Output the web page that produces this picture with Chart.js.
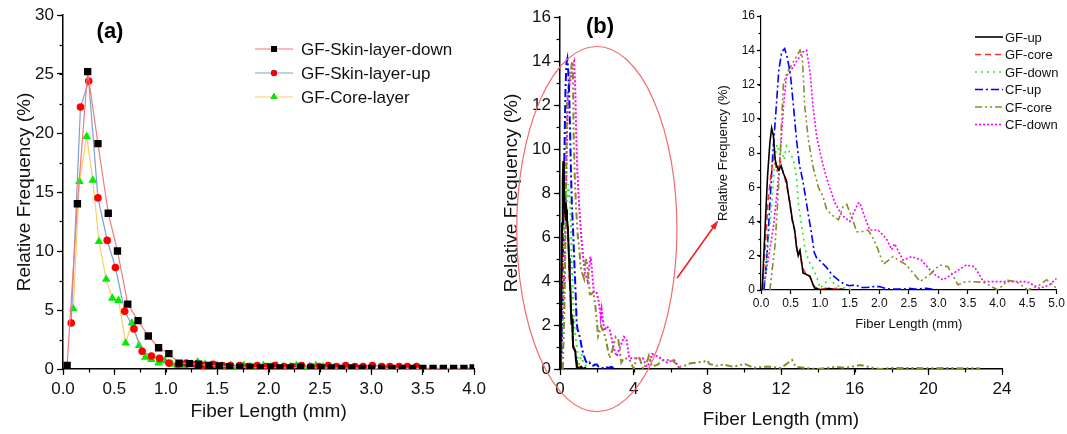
<!DOCTYPE html>
<html>
<head>
<meta charset="utf-8">
<script src="https://cdn.jsdelivr.net/npm/chart.js@4.4.0/dist/chart.umd.min.js"></script>
<style>
html, body { margin: 0; padding: 0; background: #fff; }
#wrap { position: relative; width: 1067px; height: 434px; overflow: hidden; }
canvas { position: absolute; top: 0; }
#cA { left: 0; }
#cB { left: 490px; }
#cI { left: 690px; }
</style>
</head>
<body>
<div id="wrap">
  <canvas id="cA" width="490" height="434"></canvas>
  <canvas id="cB" width="577" height="434"></canvas>
  <canvas id="cI" width="377" height="340"></canvas>
</div>
<script>
// ---------- panel (a) data ----------
var downX = [0.04, 0.14, 0.24, 0.34, 0.44, 0.53, 0.63, 0.73, 0.83, 0.93, 1.03, 1.13, 1.23, 1.32, 1.42, 1.52, 1.62, 1.72, 1.82, 1.92, 2.02,
             2.11, 2.21, 2.31, 2.41, 2.51, 2.61, 2.71, 2.81, 2.91, 3.00, 3.10, 3.20, 3.30, 3.40, 3.50, 3.60, 3.70, 3.80, 3.90, 3.99];
var downY = [0.3, 14.0, 25.2, 19.1, 13.2, 10.0, 5.5, 4.1, 2.8, 1.8, 1.3, 0.5, 0.45, 0.4, 0.3, 0.25, 0.2, 0.15, 0.15, 0.1, 0.15,
             0.1, 0.1, 0.15, 0.1, 0.1, 0.1, 0.05, 0.1, 0.05, 0.05, 0.05, 0.05, 0.05, 0.05, 0.05, 0.05, 0.05, 0.05, 0.05, 0.1];

var upX = [0.08, 0.17, 0.25, 0.34, 0.43, 0.51, 0.60, 0.69, 0.77, 0.86, 0.94, 1.03, 1.12, 1.20, 1.29, 1.37, 1.46, 1.55, 1.63, 1.72,
           1.80, 1.89, 1.98, 2.06, 2.15, 2.23, 2.32, 2.41, 2.49, 2.58, 2.66, 2.75, 2.84, 2.92, 3.01, 3.10, 3.18, 3.27, 3.35, 3.44];
var upY = [3.9, 22.2, 24.4, 14.5, 10.9, 8.6, 4.9, 3.4, 1.5, 1.1, 0.9, 0.5, 0.4, 0.5, 0.4, 0.3, 0.4, 0.3, 0.3, 0.3,
           0.2, 0.3, 0.2, 0.3, 0.2, 0.2, 0.3, 0.2, 0.2, 0.3, 0.2, 0.3, 0.2, 0.2, 0.3, 0.2, 0.2, 0.2, 0.2, 0.2];

var coreX = [0.10, 0.16, 0.23, 0.29, 0.35, 0.42, 0.48, 0.54, 0.61, 0.67, 0.74, 0.80, 0.86, 0.93, 0.99, 1.06, 1.12, 1.18, 1.25, 1.31,
             1.38, 1.44, 1.50, 1.57, 1.63, 1.70, 1.76, 1.82, 1.89, 1.95, 2.02, 2.08, 2.14, 2.21, 2.27, 2.34, 2.40, 2.46, 2.53, 2.59];
var coreY = [5.1, 15.9, 19.7, 16.0, 10.8, 7.6, 6.0, 5.8, 2.2, 3.9, 2.0, 1.0, 0.8, 0.5, 0.7, 0.4, 0.3, 0.3, 0.4, 0.6,
             0.4, 0.3, 0.3, 0.2, 0.3, 0.2, 0.3, 0.2, 0.2, 0.3, 0.2, 0.3, 0.2, 0.2, 0.3, 0.2, 0.2, 0.3, 0.2, 0.2];

var aLabels = ['GF-Skin-layer-down', 'GF-Skin-layer-up', 'GF-Core-layer'];

// ---------- panel (b) data ----------
var gfUpX = [0.02, 0.07, 0.11, 0.15, 0.18, 0.21, 0.24, 0.27, 0.30, 0.34, 0.38, 0.43, 0.46, 0.49, 0.53, 0.57, 0.60, 0.63, 0.66, 0.69,
             0.71, 0.77, 0.83, 0.87, 0.91, 0.97, 1.05, 1.15, 1.25, 1.35, 1.45];
var gfUpY = [0, 3.7, 6.6, 8.6, 9.45, 9.0, 7.6, 7.2, 7.0, 7.25, 6.8, 6.4, 5.65, 5.05, 4.1, 3.5, 2.5, 2.0, 2.3, 1.55,
             1.0, 0.9, 0.8, 0.4, 0.1, 0.05, 0, 0.1, 0, 0.05, 0];

var gfCoreX = [0.02, 0.07, 0.12, 0.17, 0.22, 0.27, 0.32, 0.37, 0.42, 0.47, 0.52, 0.57, 0.62, 0.65, 0.70, 0.75, 0.80, 0.85, 0.90, 0.95,
               1.00, 1.10, 1.20, 1.30, 1.40];
var gfCoreY = [0, 2.5, 5.2, 6.8, 7.8, 6.9, 7.6, 6.9, 6.3, 5.5, 4.2, 3.4, 2.1, 2.3, 1.3, 1.0, 0.9, 0.6, 0.2, 0.1,
               0.05, 0.1, 0.05, 0.1, 0];

var gfDownX = [0.02, 0.07, 0.12, 0.17, 0.21, 0.24, 0.27, 0.31, 0.35, 0.39, 0.43, 0.49, 0.55, 0.60, 0.63, 0.69, 0.74, 0.80, 0.88, 0.94,
               1.00, 1.08, 1.17, 1.25, 1.34, 1.44, 1.55];
var gfDownY = [0, 0.8, 2.7, 4.5, 6.4, 7.8, 8.5, 8.0, 8.1, 7.6, 8.4, 8.0, 7.6, 6.6, 5.1, 3.7, 2.5, 1.75, 1.25, 0.8,
               0.1, 0.4, 0.7, 0.3, 0.2, 0.1, 0];

var cfUpX = [0.05, 0.10, 0.15, 0.20, 0.25, 0.30, 0.35, 0.40, 0.45, 0.50, 0.55, 0.60, 0.65, 0.70, 0.75, 0.80, 0.85, 0.90, 0.95, 1.00,
             1.10, 1.20, 1.30, 1.40, 1.50, 1.60, 1.70, 1.80, 1.90, 2.00, 2.10, 2.20, 2.40, 2.50, 2.60, 2.80, 3.00];
var cfUpY = [0, 2, 5, 8, 10.3, 12.8, 13.9, 14.1, 13.5, 12.5, 10.7, 8.8, 7.3, 6.5, 5.5, 4.4, 3.4, 2.2, 1.8, 1.7,
             1.35, 0.9, 0.6, 0.35, 0.25, 0.3, 0.15, 0.15, 0.2, 0.2, 0.1, 0.05, 0.05, 0.1, 0.05, 0.1, 0];

var cfCoreX = [0.15, 0.24, 0.29, 0.32, 0.35, 0.38, 0.46, 0.56, 0.66, 0.70, 0.74, 0.80, 0.88, 0.97, 1.05, 1.11, 1.19, 1.31, 1.39, 1.45,
               1.53, 1.62, 1.70, 1.81, 1.90, 1.98, 2.07, 2.23, 2.46, 2.69, 2.85, 3.02, 3.16, 3.33, 3.47, 3.76, 4.01, 4.17, 4.32, 4.51,
               4.70, 4.83, 5.00, 5.30, 5.60, 6.07, 6.50, 6.90, 7.07, 7.40, 7.80, 8.00, 8.10, 8.50, 8.90, 9.40, 10.05, 10.50, 11.00, 11.40,
               12.00, 12.60, 12.80, 13.30, 13.90, 14.50, 15.00, 15.50, 16.30, 17.00, 17.40, 18.00, 19.00, 20.00, 21.00, 22.00, 22.80];
var cfCoreY = [0, 2.7, 5.6, 7.6, 10.0, 12.1, 12.8, 13.4, 14.0, 13.6, 10.7, 8.8, 7.2, 6.0, 5.45, 4.7, 4.4, 4.1, 4.9, 5.0,
               4.3, 3.4, 3.4, 3.5, 3.0, 2.35, 1.5, 1.95, 1.46, 0.5, 0.88, 1.46, 1.36, 0.3, 0.5, 0.45, 0, 0.56, 0.5, 0,
               0.26, 0.6, 0.1, 0.2, 0.4, 0.41, 0.1, 0.18, 0.26, 0.29, 0.33, 0.4, 0.23, 0.15, 0.2, 0.1, 0.23, 0.05, 0.1, 0.1,
               0.05, 0.41, 0.1, 0.05, 0, 0.05, 0.1, 0.05, 0.18, 0.05, 0, 0.05, 0.05, 0.03, 0.05, 0.03, 0.03];

var cfDownX = [0.04, 0.12, 0.21, 0.27, 0.32, 0.38, 0.43, 0.52, 0.60, 0.71, 0.77, 0.83, 0.88, 0.94, 1.04, 1.14, 1.25, 1.36, 1.50, 1.64,
               1.67, 1.76, 1.84, 1.98, 2.12, 2.21, 2.26, 2.40, 2.55, 2.71, 2.91, 3.08, 3.25, 3.47, 3.61, 3.76, 4.04, 4.32, 4.50, 4.71,
               4.88, 5.00, 5.34, 5.80, 6.20, 6.50];
var cfDownY = [0, 1.75, 3.7, 5.65, 7.6, 10.7, 12.5, 12.9, 13.35, 13.9, 14.0, 12.7, 10.7, 9.0, 7.4, 6.2, 5.1, 4.4, 4.0, 5.05,
               5.1, 4.2, 3.5, 3.5, 3.0, 2.35, 2.7, 1.75, 1.95, 1.75, 0.97, 0.58, 0.97, 1.46, 1.36, 0.49, 0.49, 0.49, 0.49, 0.1,
               0.3, 0.68, 0.56, 0.3, 0.4, 0];

var bLabels = ['GF-up', 'GF-core', 'GF-down', 'CF-up', 'CF-core', 'CF-down'];

Chart.defaults.font.family = '"Liberation Sans", Arial, sans-serif';
Chart.defaults.color = '#111';

function pts(xs, ys) {
    return xs.map(function (x, i) { return {x: x, y: ys[i]}; });
}

// short extra ticks between the labelled ones
var minorTicks = {
    id: 'minorTicks',
    afterDraw: function (chart, args, opts) {
        var ctx = chart.ctx;
        ctx.save();
        ctx.strokeStyle = '#000';
        ctx.lineWidth = 1.2;
        ['x', 'y'].forEach(function (k) {
            var step = opts[k];
            if (!step) return;
            var s = chart.scales[k];
            for (var v = s.min; v <= s.max + 1e-9; v += step) {
                var p = Math.round(s.getPixelForValue(v)) + 0.5;
                ctx.beginPath();
                if (k === 'x') { ctx.moveTo(p, s.top); ctx.lineTo(p, s.top + opts.len); }
                else { ctx.moveTo(s.right, p); ctx.lineTo(s.right - opts.len, p); }
                ctx.stroke();
            }
        });
        ctx.restore();
    }
};

// panel letter, (a) / (b)
var panelTag = {
    id: 'panelTag',
    afterDraw: function (chart, args, opts) {
        var ctx = chart.ctx;
        ctx.save();
        ctx.font = 'bold 22px "Liberation Sans", Arial, sans-serif';
        ctx.fillStyle = '#000';
        ctx.textAlign = 'center';
        ctx.textBaseline = 'middle';
        ctx.fillText(opts.text, opts.x, opts.y);
        ctx.restore();
    }
};

// legend with line + marker sample
var lineLegend = {
    id: 'lineLegend',
    afterDraw: function (chart, args, opts) {
        var ctx = chart.ctx;
        ctx.save();
        ctx.font = opts.font;
        ctx.textBaseline = 'middle';
        ctx.fillStyle = '#111';
        chart.data.datasets.forEach(function (ds, i) {
            var y = opts.y + i * opts.gap;
            ctx.strokeStyle = ds.borderColor;
            ctx.lineWidth = opts.lw || ds.borderWidth;
            ctx.setLineDash(ds.borderDash || []);
            ctx.beginPath();
            ctx.moveTo(opts.x, y);
            ctx.lineTo(opts.x + opts.w, y);
            ctx.stroke();
            ctx.setLineDash([]);
            if (ds.pointRadius) {
                Chart.helpers.drawPoint(ctx, {
                    pointStyle: ds.pointStyle, radius: ds.pointRadius * 0.8, borderWidth: 0
                }, opts.x + opts.w / 2, y);
                ctx.fillStyle = ds.pointBackgroundColor;
                ctx.fill();
            }
            ctx.fillStyle = '#111';
            ctx.fillText(ds.label, opts.x + opts.w + opts.pad, y + 1);
        });
        ctx.restore();
    }
};

// ellipse around the peak region and arrow to the inset
var zoomMark = {
    id: 'zoomMark',
    afterDraw: function (chart, args, opts) {
        var ctx = chart.ctx, xs = chart.scales.x, ys = chart.scales.y;
        var cx = xs.getPixelForValue(opts.cx), cy = ys.getPixelForValue(opts.cy);
        var rx = Math.abs(xs.getPixelForValue(opts.cx + opts.hw) - cx);
        var ry = Math.abs(ys.getPixelForValue(opts.cy + opts.hh) - cy);
        ctx.save();
        ctx.strokeStyle = '#f56b6b';
        ctx.lineWidth = 1.2;
        ctx.beginPath();
        ctx.ellipse(cx, cy, rx, ry, 0, 0, Math.PI * 2);
        ctx.stroke();
        var x1 = xs.getPixelForValue(opts.a[0]), y1 = ys.getPixelForValue(opts.a[1]);
        var x2 = xs.getPixelForValue(opts.a[2]), y2 = ys.getPixelForValue(opts.a[3]);
        ctx.strokeStyle = '#f02020';
        ctx.fillStyle = '#f02020';
        ctx.lineWidth = 1.6;
        ctx.beginPath();
        ctx.moveTo(x1, y1);
        ctx.lineTo(x2, y2);
        ctx.stroke();
        var ang = Math.atan2(y2 - y1, x2 - x1);
        ctx.beginPath();
        ctx.moveTo(x2 + 2 * Math.cos(ang), y2 + 2 * Math.sin(ang));
        ctx.lineTo(x2 - 8 * Math.cos(ang - 0.4), y2 - 8 * Math.sin(ang - 0.4));
        ctx.lineTo(x2 - 8 * Math.cos(ang + 0.4), y2 - 8 * Math.sin(ang + 0.4));
        ctx.closePath();
        ctx.fill();
        ctx.restore();
    }
};

function axis(opt) {
    return {
        type: 'linear',
        min: opt.min,
        max: opt.max,
        afterBuildTicks: function (s) {
            s.ticks = [];
            for (var v = opt.min; v <= opt.max + 1e-9; v += opt.step) s.ticks.push({value: +v.toFixed(4)});
        },
        afterFit: function (s) {
            if (opt.w) s.width = opt.w;
            if (opt.h) s.height = opt.h;
        },
        border: {display: true, color: '#000', width: opt.bw || 1.5},
        grid: {drawOnChartArea: false, drawTicks: true, tickLength: opt.tl || 6, tickColor: '#000', tickWidth: 1.2},
        ticks: {
            color: '#111',
            padding: opt.tp,
            font: {size: opt.fs},
            maxRotation: 0,
            autoSkip: false,
            callback: function (v) { return opt.dec ? Number(v).toFixed(opt.dec) : String(v); }
        },
        title: {
            display: true,
            text: opt.title,
            color: '#111',
            font: {size: opt.ts},
            padding: opt.tpad
        }
    };
}

// ---------- chart (a) ----------
new Chart(document.getElementById('cA'), {
    type: 'line',
    data: {
        datasets: [
            {label: aLabels[0], data: pts(downX, downY), borderColor: '#ef7b7b', borderWidth: 1.2,
             pointStyle: 'rect', pointRadius: 5.2, pointBackgroundColor: '#000', pointBorderWidth: 0},
            {label: aLabels[1], data: pts(upX, upY), borderColor: '#7f9fd0', borderWidth: 1.2,
             pointStyle: 'circle', pointRadius: 3.8, pointBackgroundColor: '#ff0000', pointBorderWidth: 0},
            {label: aLabels[2], data: pts(coreX, coreY), borderColor: '#ffcc66', borderWidth: 1.2,
             pointStyle: 'triangle', pointRadius: 5, pointBackgroundColor: '#00ee00', pointBorderWidth: 0}
        ]
    },
    options: {
        responsive: false,
        animation: false,
        layout: {padding: {left: 0, right: 13, top: 15, bottom: 0}},
        elements: {line: {tension: 0}},
        scales: {
            x: axis({min: 0, max: 4, step: 0.5, dec: 1, h: 65, fs: 17, tp: 4, title: 'Fiber Length (mm)', ts: 19, tpad: {bottom: 11}}),
            y: axis({min: 0, max: 30, step: 5, w: 63, fs: 17, tp: 3, title: 'Relative Frequency (%)', ts: 19, tpad: {top: 13}})
        },
        plugins: {
            legend: {display: false},
            tooltip: {enabled: false},
            minorTicks: {x: 0.25, y: 2.5, len: 3.5},
            panelTag: {text: '(a)', x: 110, y: 32},
            lineLegend: {x: 255, y: 49, gap: 24, w: 38, pad: 8, font: '17px "Liberation Sans", Arial, sans-serif'}
        }
    },
    plugins: [minorTicks, panelTag, lineLegend]
});

// ---------- chart (b) ----------
function bSets(lw) {
    return [
        {label: bLabels[0], data: pts(gfUpX, gfUpY), borderColor: '#000000', borderWidth: lw, pointRadius: 0},
        {label: bLabels[1], data: pts(gfCoreX, gfCoreY), borderColor: '#ff2a2a', borderWidth: lw, borderDash: [6, 4], pointRadius: 0},
        {label: bLabels[2], data: pts(gfDownX, gfDownY), borderColor: '#22ee22', borderWidth: lw, borderDash: [2, 4], pointRadius: 0},
        {label: bLabels[3], data: pts(cfUpX, cfUpY), borderColor: '#0000ff', borderWidth: lw, borderDash: [8, 3, 2, 3], pointRadius: 0},
        {label: bLabels[4], data: pts(cfCoreX, cfCoreY), borderColor: '#8a8a2a', borderWidth: lw, borderDash: [7, 3, 2, 3, 2, 3], pointRadius: 0},
        {label: bLabels[5], data: pts(cfDownX, cfDownY), borderColor: '#ff00ff', borderWidth: lw, borderDash: [2, 2], pointRadius: 0}
    ];
}

new Chart(document.getElementById('cB'), {
    type: 'line',
    data: {datasets: bSets(2)},
    options: {
        responsive: false,
        animation: false,
        layout: {padding: {left: 0, right: 65, top: 17, bottom: 0}},
        elements: {line: {tension: 0}},
        scales: {
            x: axis({min: 0, max: 24, step: 4, h: 65, fs: 17, tp: 4, title: 'Fiber Length (mm)', ts: 19, tpad: {bottom: 3}}),
            y: axis({min: 0, max: 16, step: 2, w: 70, fs: 17, tp: 3, title: 'Relative Frequency (%)', ts: 19, tpad: {top: 10}})
        },
        plugins: {
            legend: {display: false},
            tooltip: {enabled: false},
            minorTicks: {x: 2, y: 1, len: 3.5},
            panelTag: {text: '(b)', x: 110, y: 27},
            zoomMark: {cx: 2.0, cy: 6.36, hw: 4.35, hh: 8.3, a: [6.36, 4.14, 8.53, 6.68]}
        }
    },
    plugins: [minorTicks, panelTag, zoomMark]
});

// ---------- inset ----------
new Chart(document.getElementById('cI'), {
    type: 'line',
    data: {datasets: bSets(1.6)},
    options: {
        responsive: false,
        animation: false,
        layout: {padding: {left: 0, right: 10, top: 16, bottom: 0}},
        elements: {line: {tension: 0}},
        scales: {
            x: axis({min: 0, max: 5, step: 0.5, dec: 1, h: 50, fs: 12, tp: 2, tl: 4, bw: 1.2, title: 'Fiber Length (mm)', ts: 13, tpad: {bottom: 8}}),
            y: axis({min: 0, max: 16, step: 2, w: 71, fs: 12, tp: 2, tl: 4, bw: 1.2, title: 'Relative Frequency (%)', ts: 13, tpad: {top: 26}})
        },
        plugins: {
            legend: {display: false},
            tooltip: {enabled: false},
            minorTicks: {y: 1, len: 2.5},
            lineLegend: {x: 285, y: 37, gap: 17.5, w: 28, pad: 2, lw: 1.6, font: '13px "Liberation Sans", Arial, sans-serif'}
        }
    },
    plugins: [minorTicks, lineLegend]
});
</script>
</body>
</html>
